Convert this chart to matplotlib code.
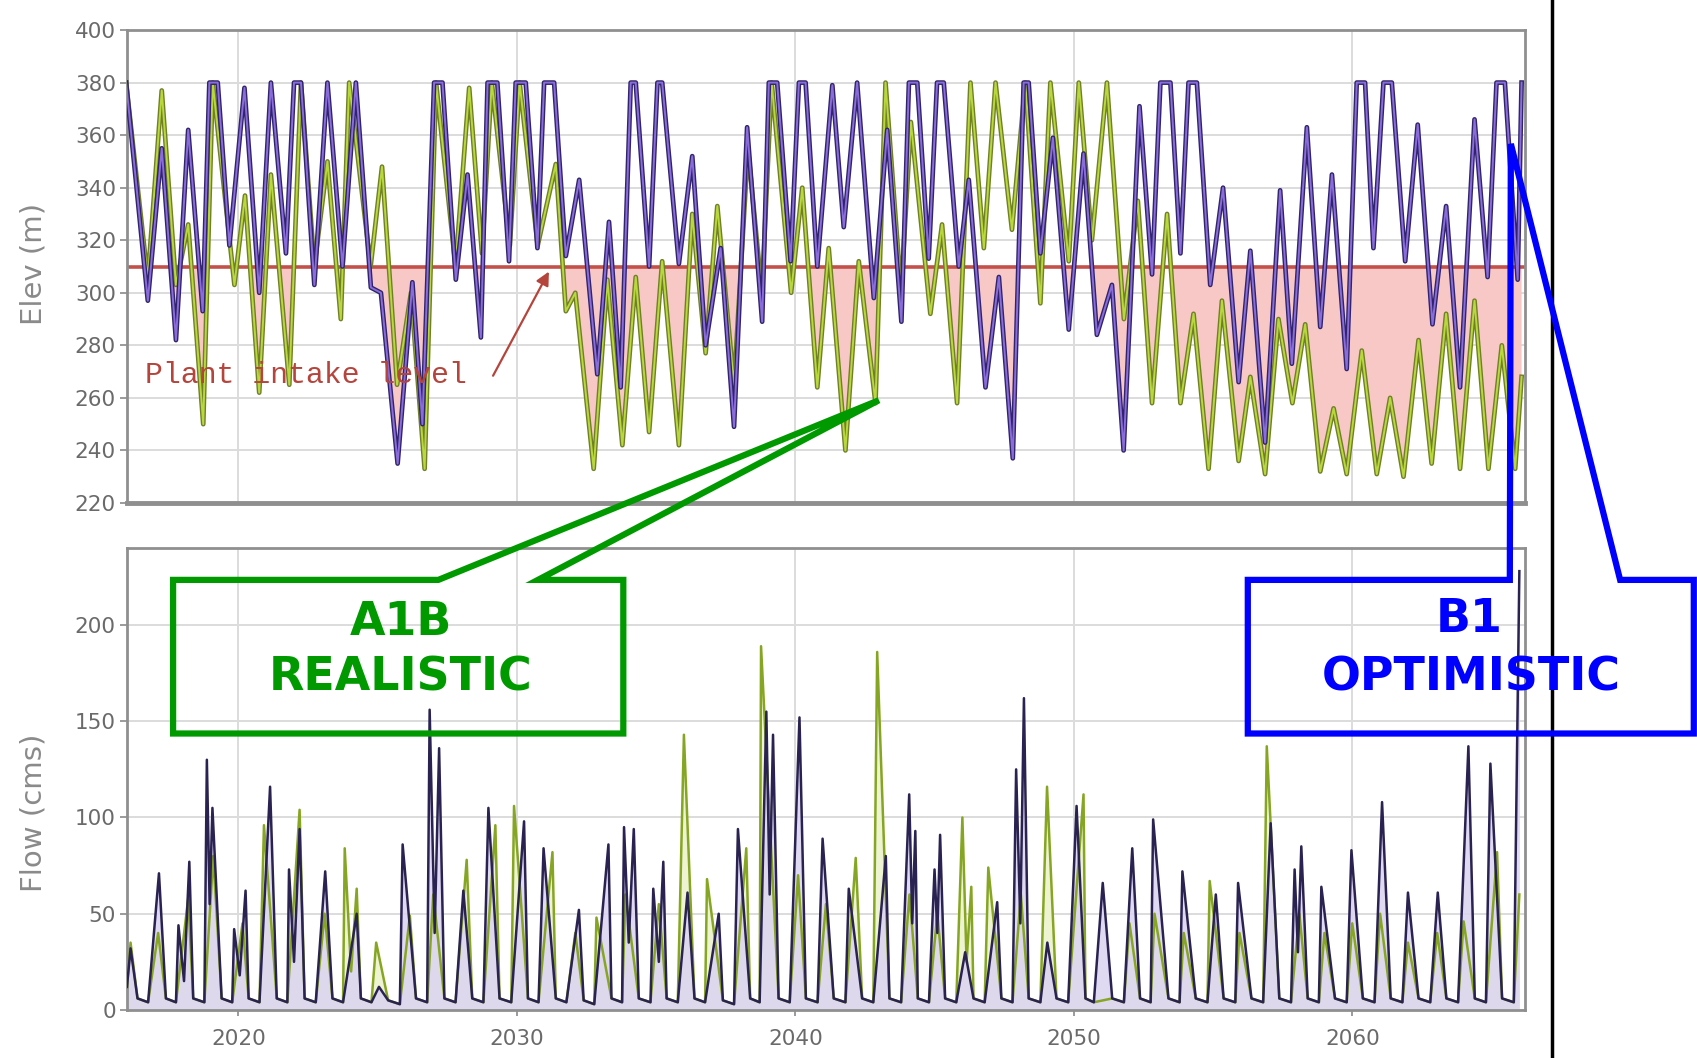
import numpy as np
import matplotlib.pyplot as plt
from matplotlib.patches import Polygon

# reservoir elevation (m): (year, value) at each turn of the curve
b1_elev = [(2015.97, 380), (2016.75, 297), (2017.25, 355), (2017.76, 282), (2018.2, 362), (2018.72, 293),
           (2018.96, 380), (2019.26, 380), (2019.68, 318), (2020.22, 378), (2020.75, 300), (2021.17, 380),
           (2021.71, 315), (2022.0, 380), (2022.25, 380), (2022.73, 303), (2023.2, 380), (2023.74, 310),
           (2024.22, 380), (2024.76, 302), (2025.12, 300), (2025.72, 235), (2026.25, 304), (2026.61, 250),
           (2027.03, 380), (2027.33, 380), (2027.81, 305), (2028.23, 345), (2028.71, 283), (2028.95, 380),
           (2029.3, 380), (2029.72, 312), (2029.96, 380), (2030.32, 380), (2030.74, 317), (2030.98, 380),
           (2031.34, 380), (2031.76, 314), (2032.24, 343), (2032.89, 269), (2033.31, 327), (2033.73, 264),
           (2034.09, 380), (2034.27, 380), (2034.75, 310), (2035.05, 380), (2035.22, 380), (2035.82, 311),
           (2036.3, 352), (2036.78, 280), (2037.32, 317), (2037.8, 249), (2038.27, 363), (2038.81, 289),
           (2039.05, 380), (2039.35, 380), (2039.83, 312), (2040.13, 380), (2040.37, 380), (2040.79, 310),
           (2041.33, 379), (2041.74, 325), (2042.22, 380), (2042.82, 298), (2043.3, 362), (2043.81, 289),
           (2044.08, 380), (2044.38, 380), (2044.79, 313), (2045.09, 380), (2045.33, 380), (2045.87, 310),
           (2046.23, 343), (2046.83, 264), (2047.31, 306), (2047.81, 237), (2048.2, 380), (2048.38, 380),
           (2048.8, 315), (2049.25, 359), (2049.82, 286), (2050.35, 353), (2050.83, 284), (2051.37, 303),
           (2051.79, 240), (2052.36, 371), (2052.81, 307), (2053.11, 380), (2053.47, 380), (2053.83, 315),
           (2054.12, 380), (2054.42, 380), (2054.9, 303), (2055.36, 340), (2055.92, 266), (2056.34, 316),
           (2056.87, 243), (2057.41, 339), (2057.83, 273), (2058.37, 363), (2058.85, 287), (2059.27, 345),
           (2059.8, 271), (2060.16, 380), (2060.46, 380), (2060.76, 317), (2061.12, 380), (2061.42, 380),
           (2061.9, 312), (2062.35, 364), (2062.88, 288), (2063.37, 333), (2063.87, 264), (2064.39, 366),
           (2064.86, 306), (2065.18, 380), (2065.48, 380), (2065.94, 305), (2066.08, 380)]

a1b_elev = [(2015.97, 380), (2016.75, 305), (2017.25, 377), (2017.76, 303), (2018.2, 326), (2018.74, 250),
            (2019.08, 380), (2019.86, 303), (2020.24, 337), (2020.75, 262), (2021.17, 345), (2021.83, 265),
            (2022.25, 380), (2022.73, 310), (2023.2, 350), (2023.68, 290), (2023.98, 380), (2024.75, 310),
            (2025.16, 348), (2025.7, 265), (2026.2, 300), (2026.69, 233), (2027.1, 380), (2027.8, 310),
            (2028.29, 378), (2028.75, 315), (2029.1, 380), (2029.75, 318), (2030.1, 380), (2030.75, 318),
            (2031.4, 349), (2031.76, 293), (2032.1, 300), (2032.76, 233), (2033.25, 305), (2033.79, 242),
            (2034.27, 306), (2034.75, 247), (2035.22, 312), (2035.82, 242), (2036.3, 330), (2036.78, 277),
            (2037.2, 333), (2037.8, 265), (2038.3, 355), (2038.8, 300), (2039.15, 380), (2039.85, 300),
            (2040.25, 340), (2040.79, 264), (2041.2, 317), (2041.8, 240), (2042.28, 312), (2042.88, 258),
            (2043.24, 380), (2043.8, 300), (2044.15, 365), (2044.85, 292), (2045.27, 326), (2045.81, 258),
            (2046.29, 380), (2046.77, 317), (2047.19, 380), (2047.78, 324), (2048.26, 380), (2048.8, 296),
            (2049.16, 380), (2049.82, 312), (2050.18, 380), (2050.65, 320), (2051.19, 380), (2051.8, 290),
            (2052.3, 335), (2052.81, 258), (2053.35, 330), (2053.83, 258), (2054.3, 292), (2054.84, 233),
            (2055.32, 297), (2055.92, 236), (2056.34, 268), (2056.87, 231), (2057.35, 290), (2057.85, 258),
            (2058.31, 288), (2058.85, 232), (2059.33, 256), (2059.8, 231), (2060.34, 278), (2060.88, 231),
            (2061.36, 260), (2061.84, 230), (2062.38, 282), (2062.85, 235), (2063.37, 292), (2063.87, 233),
            (2064.39, 297), (2064.89, 233), (2065.37, 280), (2065.85, 233), (2066.08, 268)]

intake_level = 310

# river flow (cms): dry-season lows shared by both runs, then the wet-season spikes of each
dry_flow = [(2016.0, 12), (2016.38, 6), (2016.76, 4), (2017.4, 6), (2017.76, 4), (2018.38, 6), (2018.78, 4),
            (2019.4, 6), (2019.78, 4), (2020.37, 6), (2020.76, 4), (2021.38, 6), (2021.76, 4), (2022.38, 6),
            (2022.78, 4), (2023.38, 6), (2023.76, 4), (2024.4, 6), (2024.78, 4), (2025.38, 5), (2025.8, 3),
            (2026.38, 6), (2026.78, 4), (2027.4, 6), (2027.8, 4), (2028.4, 6), (2028.8, 4), (2029.38, 6),
            (2029.8, 4), (2030.4, 6), (2030.78, 4), (2031.4, 6), (2031.78, 4), (2032.4, 5), (2032.78, 3),
            (2033.4, 6), (2033.78, 4), (2034.38, 6), (2034.8, 4), (2035.38, 6), (2035.78, 4), (2036.38, 6),
            (2036.76, 4), (2037.4, 5), (2037.8, 3), (2038.38, 6), (2038.72, 4), (2039.4, 6), (2039.8, 4),
            (2040.38, 6), (2040.8, 4), (2041.38, 6), (2041.8, 4), (2042.4, 6), (2042.8, 4), (2043.38, 6),
            (2043.8, 4), (2044.4, 6), (2044.8, 4), (2045.38, 6), (2045.78, 4), (2046.4, 6), (2046.8, 4),
            (2047.4, 6), (2047.8, 4), (2048.38, 6), (2048.8, 4), (2049.38, 6), (2049.8, 4), (2050.42, 6),
            (2050.72, 4), (2051.38, 6), (2051.8, 4), (2052.38, 6), (2052.76, 4), (2053.4, 6), (2053.8, 4),
            (2054.38, 6), (2054.8, 4), (2055.38, 6), (2055.8, 4), (2056.38, 6), (2056.8, 4), (2057.38, 6),
            (2057.8, 4), (2058.4, 6), (2058.8, 4), (2059.38, 6), (2059.8, 4), (2060.38, 6), (2060.8, 4),
            (2061.38, 6), (2061.8, 4), (2062.38, 6), (2062.8, 4), (2063.38, 6), (2063.8, 4), (2064.4, 6),
            (2064.8, 4), (2065.38, 6), (2065.8, 4)]

b1_flow = [(2016.13, 32), (2017.15, 71), (2017.85, 44), (2018.05, 15), (2018.24, 77), (2018.87, 130),
           (2018.97, 55), (2019.07, 105), (2019.85, 42), (2020.05, 18), (2020.26, 62), (2021.14, 116),
           (2021.82, 73), (2022.0, 25), (2022.2, 94), (2023.12, 72), (2024.25, 50), (2025.05, 12),
           (2025.9, 86), (2026.87, 156), (2027.05, 40), (2027.21, 136), (2028.08, 62), (2028.98, 105),
           (2030.26, 98), (2030.96, 84), (2032.23, 52), (2033.29, 86), (2033.85, 95), (2034.02, 35),
           (2034.2, 94), (2034.9, 63), (2035.1, 25), (2035.26, 77), (2036.13, 61), (2037.25, 50),
           (2037.94, 94), (2038.96, 155), (2039.08, 60), (2039.2, 143), (2040.15, 152), (2040.98, 89),
           (2041.92, 63), (2043.25, 80), (2044.09, 112), (2044.2, 45), (2044.31, 93), (2045.0, 73),
           (2045.1, 40), (2045.2, 91), (2046.1, 30), (2047.25, 56), (2047.93, 125), (2048.08, 45),
           (2048.21, 162), (2049.05, 35), (2050.1, 106), (2051.04, 66), (2052.1, 84), (2052.85, 99),
           (2053.9, 72), (2055.1, 60), (2055.9, 66), (2057.07, 97), (2057.93, 73), (2058.05, 30),
           (2058.17, 85), (2058.89, 64), (2059.97, 83), (2061.07, 108), (2062.0, 61), (2063.07, 61),
           (2064.17, 137), (2064.96, 128), (2066.0, 228)]

a1b_flow = [(2016.13, 35), (2017.12, 40), (2018.2, 58), (2019.1, 80), (2020.15, 45), (2020.92, 96),
            (2022.2, 104), (2023.1, 50), (2023.82, 84), (2024.05, 20), (2024.25, 63), (2024.95, 35),
            (2026.16, 49), (2027.0, 60), (2028.2, 78), (2029.23, 96), (2029.9, 106), (2031.28, 82),
            (2032.1, 40), (2032.86, 48), (2033.9, 60), (2035.1, 55), (2036.0, 143), (2036.83, 68),
            (2038.24, 84), (2038.77, 189), (2040.1, 70), (2041.1, 55), (2042.17, 79), (2042.94, 186),
            (2044.1, 60), (2045.1, 50), (2046.0, 100), (2046.15, 25), (2046.32, 64), (2046.93, 74),
            (2048.1, 60), (2049.04, 116), (2050.35, 112), (2052.0, 45), (2052.9, 50), (2053.95, 40),
            (2054.88, 67), (2055.95, 40), (2056.93, 137), (2058.1, 50), (2059.0, 40), (2060.0, 45),
            (2061.0, 50), (2062.0, 35), (2063.05, 40), (2064.0, 46), (2065.2, 82), (2066.0, 60)]

decades = [2020, 2030, 2040, 2050, 2060]
elev_ticks = [220, 240, 260, 280, 300, 320, 340, 360, 380, 400]
flow_ticks = [0, 50, 100, 150, 200]


def unpack(pairs):
    arr = np.array(sorted(pairs), dtype=float)
    return arr[:, 0], arr[:, 1]


def style_axes(ax):
    for s in ax.spines.values():
        s.set_color('#8f8f8f')
        s.set_linewidth(2)
    ax.grid(True, color='#dcdcdc', lw=1.4)
    ax.set_axisbelow(True)
    ax.tick_params(axis='y', colors='#8a8a8a', labelcolor='#6a6a6a', labelsize=15.5, length=5, width=1.2,
                   pad=3)


fig = plt.figure(figsize=(16.97, 10.58), dpi=100)
ax1 = fig.add_axes([0.0748, 0.5246, 0.8238, 0.447])
ax2 = fig.add_axes([0.0748, 0.0454, 0.8238, 0.4366])

# --- elevation panel ---
ta, va = unpack(a1b_elev)
tb, vb = unpack(b1_elev)
for t, v in [(ta, va), (tb, vb)]:
    ax1.fill_between(t, v, intake_level, where=v < intake_level, interpolate=True,
                     color='#f8c8c6', lw=0, zorder=1)
ax1.axhline(intake_level, color='#c4504a', lw=2.6, zorder=2)
ax1.plot(ta, va, color='#717f28', lw=3.4, zorder=3, solid_joinstyle='round')
ax1.plot(ta, va, color='#b8d83e', lw=1.4, zorder=3.1, solid_joinstyle='round')
ax1.plot(tb, vb, color='#30256a', lw=3.4, zorder=4, solid_joinstyle='round')
ax1.plot(tb, vb, color='#8a6cdb', lw=1.4, zorder=4.1, solid_joinstyle='round')

ax1.set_xlim(2016.0, 2066.2)
ax1.set_ylim(220, 400)
ax1.set_yticks(elev_ticks)
ax1.set_xticks(decades)
style_axes(ax1)
ax1.spines['bottom'].set_linewidth(3.5)
ax1.tick_params(axis='x', labelbottom=False, length=0)
ax1.set_ylabel('Elev (m)', fontsize=21, color='#8a8a8a')
ax1.yaxis.set_label_coords(-0.057, 0.506)

ax1.text(2016.66, 268.7, 'Plant intake level', family='Liberation Mono', fontsize=21.5,
         color='#b5453c', va='center', ha='left', zorder=5)
ax1.annotate('', xy=(2031.2, 309), xytext=(2029.1, 267.5),
             arrowprops=dict(arrowstyle='-|>', color='#b5453c', lw=1.6, mutation_scale=20), zorder=5)

# --- flow panel ---
fa_t, fa_v = unpack(dry_flow + a1b_flow)
fb_t, fb_v = unpack(dry_flow + b1_flow)
ax2.fill_between(fa_t, fa_v, 0, color='#eef3d2', lw=0, zorder=1)
ax2.fill_between(fb_t, fb_v, 0, color='#dcd5f0', lw=0, alpha=0.9, zorder=1.5)
ax2.plot(fa_t, fa_v, color='#86a623', lw=1.8, zorder=3)
ax2.plot(fb_t, fb_v, color='#2a2352', lw=1.8, zorder=4)

ax2.set_xlim(2016.0, 2066.2)
ax2.set_ylim(0, 240)
ax2.set_yticks(flow_ticks)
ax2.set_xticks(decades)
style_axes(ax2)
ax2.tick_params(axis='x', colors='#8a8a8a', labelcolor='#6a6a6a', labelsize=15.5,
                length=8, width=1.2, direction='inout', pad=10)
ax2.set_ylabel('Flow (cms)', fontsize=21, color='#8a8a8a')
ax2.yaxis.set_label_coords(-0.057, 0.427)

# --- scenario call-outs (figure coordinates) ---
green = '#009a00'
blue = '#0000ff'
green_box = [(0.1020, 0.4519), (0.2583, 0.4519), (0.5179, 0.6217), (0.3170, 0.4519),
             (0.3673, 0.4519), (0.3673, 0.3067), (0.1020, 0.3067)]
blue_box = [(0.7353, 0.4519), (0.8897, 0.4519), (0.8903, 0.8640), (0.9547, 0.4519),
            (0.9981, 0.4519), (0.9981, 0.3067), (0.7353, 0.3067)]
fig.add_artist(Polygon(green_box, closed=True, fill=False, edgecolor=green, lw=4.5,
                       joinstyle='miter', transform=fig.transFigure, zorder=10))
fig.add_artist(Polygon(blue_box, closed=True, fill=False, edgecolor=blue, lw=4.5,
                       joinstyle='miter', transform=fig.transFigure, zorder=10))
fig.add_artist(plt.Line2D([0.9146, 0.9146], [0.0, 1.0], color='black', lw=2.5,
                          transform=fig.transFigure, zorder=9))

fig.text(0.236, 0.412, 'A1B', color=green, fontsize=33, fontweight='bold', ha='center', va='center')
fig.text(0.236, 0.359, 'REALISTIC', color=green, fontsize=33, fontweight='bold', ha='center', va='center')
fig.text(0.866, 0.414, 'B1', color=blue, fontsize=33, fontweight='bold', ha='center', va='center', zorder=11)
fig.text(0.867, 0.359, 'OPTIMISTIC', color=blue, fontsize=33, fontweight='bold', ha='center', va='center',
         zorder=11)

fig.savefig('out.png', dpi=100)
